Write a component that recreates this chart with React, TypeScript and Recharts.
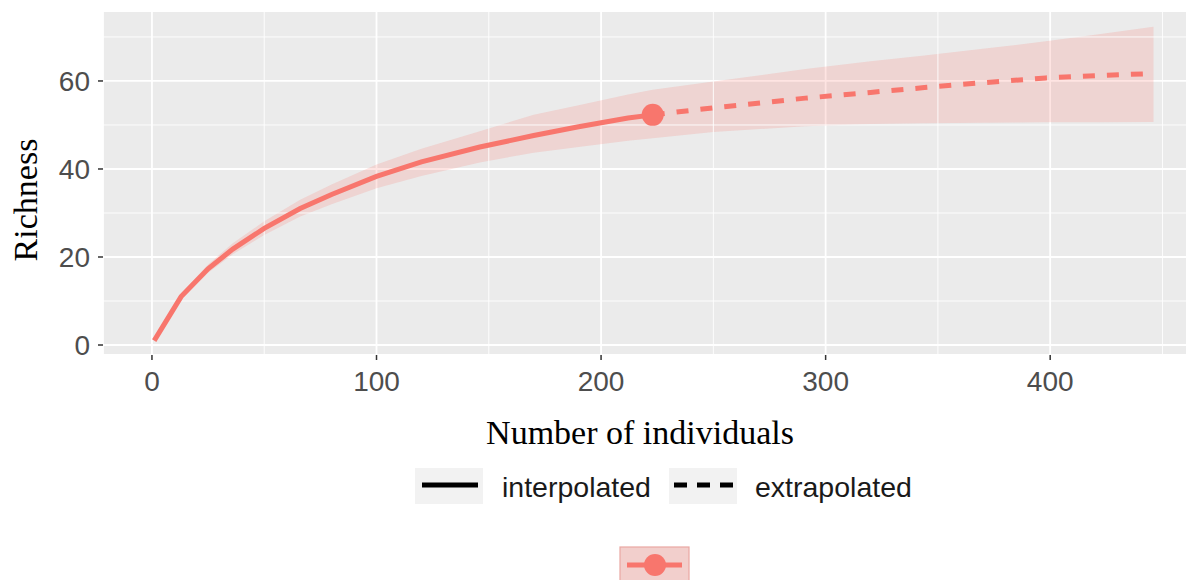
import React from 'react';
import { ComposedChart, Line, Area, XAxis, YAxis, CartesianGrid, ReferenceLine } from 'recharts';

// ---- data ----
const interpM = [1, 13, 25, 36, 50, 66, 80, 100, 120, 146, 170, 190, 212, 223];
const interpS = [1, 11, 17.3, 21.8, 26.5, 31.0, 34.2, 38.3, 41.6, 45.0, 47.6, 49.6, 51.6, 52.3];
const interpLo = [1, 10.3, 16.4, 20.6, 25.0, 29.2, 32.0, 35.6, 38.4, 41.5, 43.7, 45.0, 46.4, 47.0];
const interpHi = [1, 11.7, 18.3, 23.1, 28.1, 33.0, 36.5, 41.0, 44.6, 48.6, 52.3, 54.5, 56.9, 58.0];

const extrapM = [223, 250, 291, 320, 344, 370, 398, 420, 446];
const extrapS = [52.3, 53.9, 56.1, 57.4, 58.5, 59.6, 60.7, 61.2, 61.7];
const extrapLo = [47.0, 48.4, 49.7, 50.2, 50.4, 50.5, 50.6, 50.6, 50.7];
const extrapHi = [58.0, 59.9, 62.7, 64.5, 65.8, 67.3, 69.0, 70.5, 72.3];

const observedM = [223];
const observedS = [52.3];

const xTicks = [0, 100, 200, 300, 400];
const yTicks = [0, 20, 40, 60];
const xMinor = [50, 150, 250, 350, 450];
const yMinor = [10, 30, 50, 70];

const legendLabels = ['interpolated', 'extrapolated'];
const xTitle = 'Number of individuals';
const yTitle = 'Richness';

// ---- derived tables ----
const interpData = interpM.map((m, i) => ({ m, s: interpS[i] }));
const extrapData = extrapM.map((m, i) => ({ m, s: extrapS[i] }));
const observedData = observedM.map((m, i) => ({ m, s: observedS[i] }));
const bandData = [
  ...interpM.map((m, i) => ({ m, range: [interpLo[i], interpHi[i]] })),
  ...extrapM.slice(1).map((m, i) => ({ m, range: [extrapLo[i + 1], extrapHi[i + 1]] })),
];

const RED = '#F8766D';
const BAND = '#F8766D';
const sans = '"Liberation Sans", Arial, sans-serif';
const serif = '"Liberation Serif", "Times New Roman", serif';

export default function App() {
  return (
    <div style={{ position: 'relative', width: 1186, height: 572 }}>
      <ComposedChart
        width={1186}
        height={572}
        margin={{ top: 3, right: 1, bottom: 0, left: 8 }}
      >
        <CartesianGrid fill="#EBEBEB" stroke="#FFFFFF" strokeWidth={1.8} fillOpacity={1} />
        {xMinor.map((v) => (
          <ReferenceLine key={'xm' + v} x={v} stroke="#FFFFFF" strokeWidth={0.9} ifOverflow="hidden" />
        ))}
        {yMinor.map((v) => (
          <ReferenceLine key={'ym' + v} y={v} stroke="#FFFFFF" strokeWidth={0.9} ifOverflow="hidden" />
        ))}
        <XAxis
          dataKey="m"
          type="number"
          domain={[-21.8, 463.6]}
          allowDataOverflow
          ticks={xTicks}
          axisLine={false}
          tickSize={5}
          tickMargin={11}
          tickLine={{ stroke: '#333333', strokeWidth: 1.5 }}
          tick={{ fill: '#4D4D4D', fontSize: 28, fontFamily: sans }}
          height={225}
        />
        <YAxis
          type="number"
          domain={[-2.27, 75.9]}
          allowDataOverflow
          ticks={yTicks}
          axisLine={false}
          tickSize={5}
          tickMargin={8}
          tickLine={{ stroke: '#333333', strokeWidth: 1.5 }}
          tick={{ fill: '#4D4D4D', fontSize: 28, fontFamily: sans }}
          width={87}
        />
        <Area
          data={bandData}
          dataKey="range"
          type="linear"
          stroke="none"
          fill={BAND}
          fillOpacity={0.2}
          isAnimationActive={false}
          activeDot={false}
        />
        <Line
          data={interpData}
          dataKey="s"
          type="linear"
          stroke={RED}
          strokeWidth={5}
          dot={false}
          activeDot={false}
          isAnimationActive={false}
        />
        <Line
          data={extrapData}
          dataKey="s"
          type="linear"
          stroke={RED}
          strokeWidth={5}
          strokeDasharray="12 12"
          dot={false}
          activeDot={false}
          isAnimationActive={false}
        />
        <Line
          data={observedData}
          dataKey="s"
          type="linear"
          stroke={RED}
          strokeWidth={0}
          dot={{ r: 11, fill: RED, stroke: RED, strokeWidth: 0 }}
          activeDot={false}
          isAnimationActive={false}
        />
      </ComposedChart>

      <svg
        width={1186}
        height={572}
        style={{ position: 'absolute', left: 0, top: 0, pointerEvents: 'none' }}
      >
        <text
          x={29}
          y={192}
          transform="rotate(-90, 29, 192)"
          textAnchor="middle"
          fontFamily={serif}
          fontSize={34}
          fill="#000000"
        >
          {yTitle}
        </text>
        <text x={632} y={436} textAnchor="middle" fontFamily={serif} fontSize={34} fill="#000000">
          {xTitle}
        </text>

        {/* legend row 1: line types */}
        <rect x={407} y={460} width={68} height={36} fill="#F2F2F2" />
        <line x1={414} y1={477} x2={470} y2={477} stroke="#000000" strokeWidth={5} />
        <text x={494} y={489} fontFamily={sans} fontSize={28.5} fill="#1A1A1A">
          {legendLabels[0]}
        </text>
        <rect x={661} y={460} width={68} height={36} fill="#F2F2F2" />
        <line x1={666} y1={477} x2={726} y2={477} stroke="#000000" strokeWidth={5} strokeDasharray="13 10" />
        <text x={747} y={489} fontFamily={sans} fontSize={28.5} fill="#1A1A1A">
          {legendLabels[1]}
        </text>

        {/* legend row 2: assemblage */}
        <rect x={612} y={539} width={69} height={36} fill="#F2CFCC" stroke="#E9A7A2" strokeWidth={1.2} />
        <line x1={619} y1={557} x2={674} y2={557} stroke={RED} strokeWidth={5} />
        <circle cx={647} cy={557} r={11} fill={RED} />
      </svg>
    </div>
  );
}
